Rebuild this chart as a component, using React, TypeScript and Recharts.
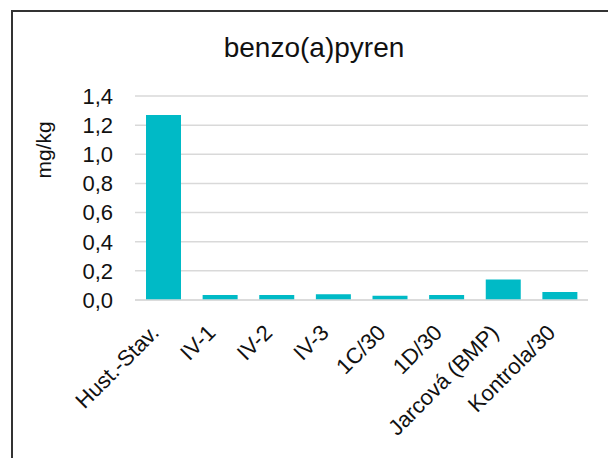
import React from 'react';
import { BarChart, Bar, XAxis, YAxis, CartesianGrid, Label } from 'recharts';

const categories = ['Hust.-Stav.', 'IV-1', 'IV-2', 'IV-3', '1C/30', '1D/30', 'Jarcová (BMP)', 'Kontrola/30'];
const values = [1.27, 0.035, 0.035, 0.04, 0.03, 0.035, 0.14, 0.055];
const yTicks = [0, 0.2, 0.4, 0.6, 0.8, 1.0, 1.2, 1.4];

const data = categories.map((name, i) => ({ name, value: values[i] }));

const FONT = "Arial, 'Liberation Sans', sans-serif";

// rotated category labels, end of text sits at the tick
const XTick = ({ x, y, payload }: any) => {
  const ax = x - 3;
  const ay = y + 32;
  return (
    <text
      x={ax}
      y={ay}
      transform={`rotate(-45, ${ax}, ${ay})`}
      textAnchor="end"
      fontSize={22}
      fontFamily={FONT}
      fill="#111"
    >
      {payload.value}
    </text>
  );
};

export default function App() {
  return (
    <div style={{ position: 'absolute', left: 0, top: 0, width: 608, height: 458, overflow: 'hidden', background: '#fff' }}>
      <div
        style={{
          position: 'absolute',
          left: 11,
          top: 10,
          width: 700,
          height: 600,
          borderLeft: '2px solid #333',
          borderTop: '2px solid #333',
        }}
      />
      <div
        style={{
          position: 'absolute',
          left: 0,
          top: 32,
          width: 628,
          textAlign: 'center',
          fontFamily: FONT,
          fontSize: 28,
          lineHeight: '32px',
          color: '#111',
        }}
      >
        benzo(a)pyren
      </div>
      <BarChart
        width={608}
        height={458}
        data={data}
        margin={{ top: 96, right: 20, bottom: 0, left: 0 }}
      >
        <CartesianGrid vertical={false} stroke="#d9d9d9" strokeWidth={1.5} />
        <XAxis
          dataKey="name"
          interval={0}
          height={158}
          tickLine={false}
          tickSize={0}
          axisLine={{ stroke: '#d9d9d9', strokeWidth: 1.5 }}
          tick={<XTick />}
        />
        <YAxis
          width={135}
          domain={[0, 1.4]}
          ticks={yTicks}
          interval={0}
          axisLine={false}
          tickLine={false}
          tickSize={0}
          tickMargin={22}
          tickFormatter={(v: number) => v.toFixed(1).replace('.', ',')}
          tick={{ fontSize: 22, fontFamily: FONT, fill: '#111' }}
        >
          <Label
            content={() => (
              <text
                x={43}
                y={150}
                transform="rotate(-90, 43, 150)"
                textAnchor="middle"
                dominantBaseline="central"
                fontSize={21}
                fontFamily={FONT}
                fill="#111"
              >
                mg/kg
              </text>
            )}
          />
        </YAxis>
        <Bar dataKey="value" fill="#00BAC6" barSize={35} isAnimationActive={false} />
      </BarChart>
    </div>
  );
}
